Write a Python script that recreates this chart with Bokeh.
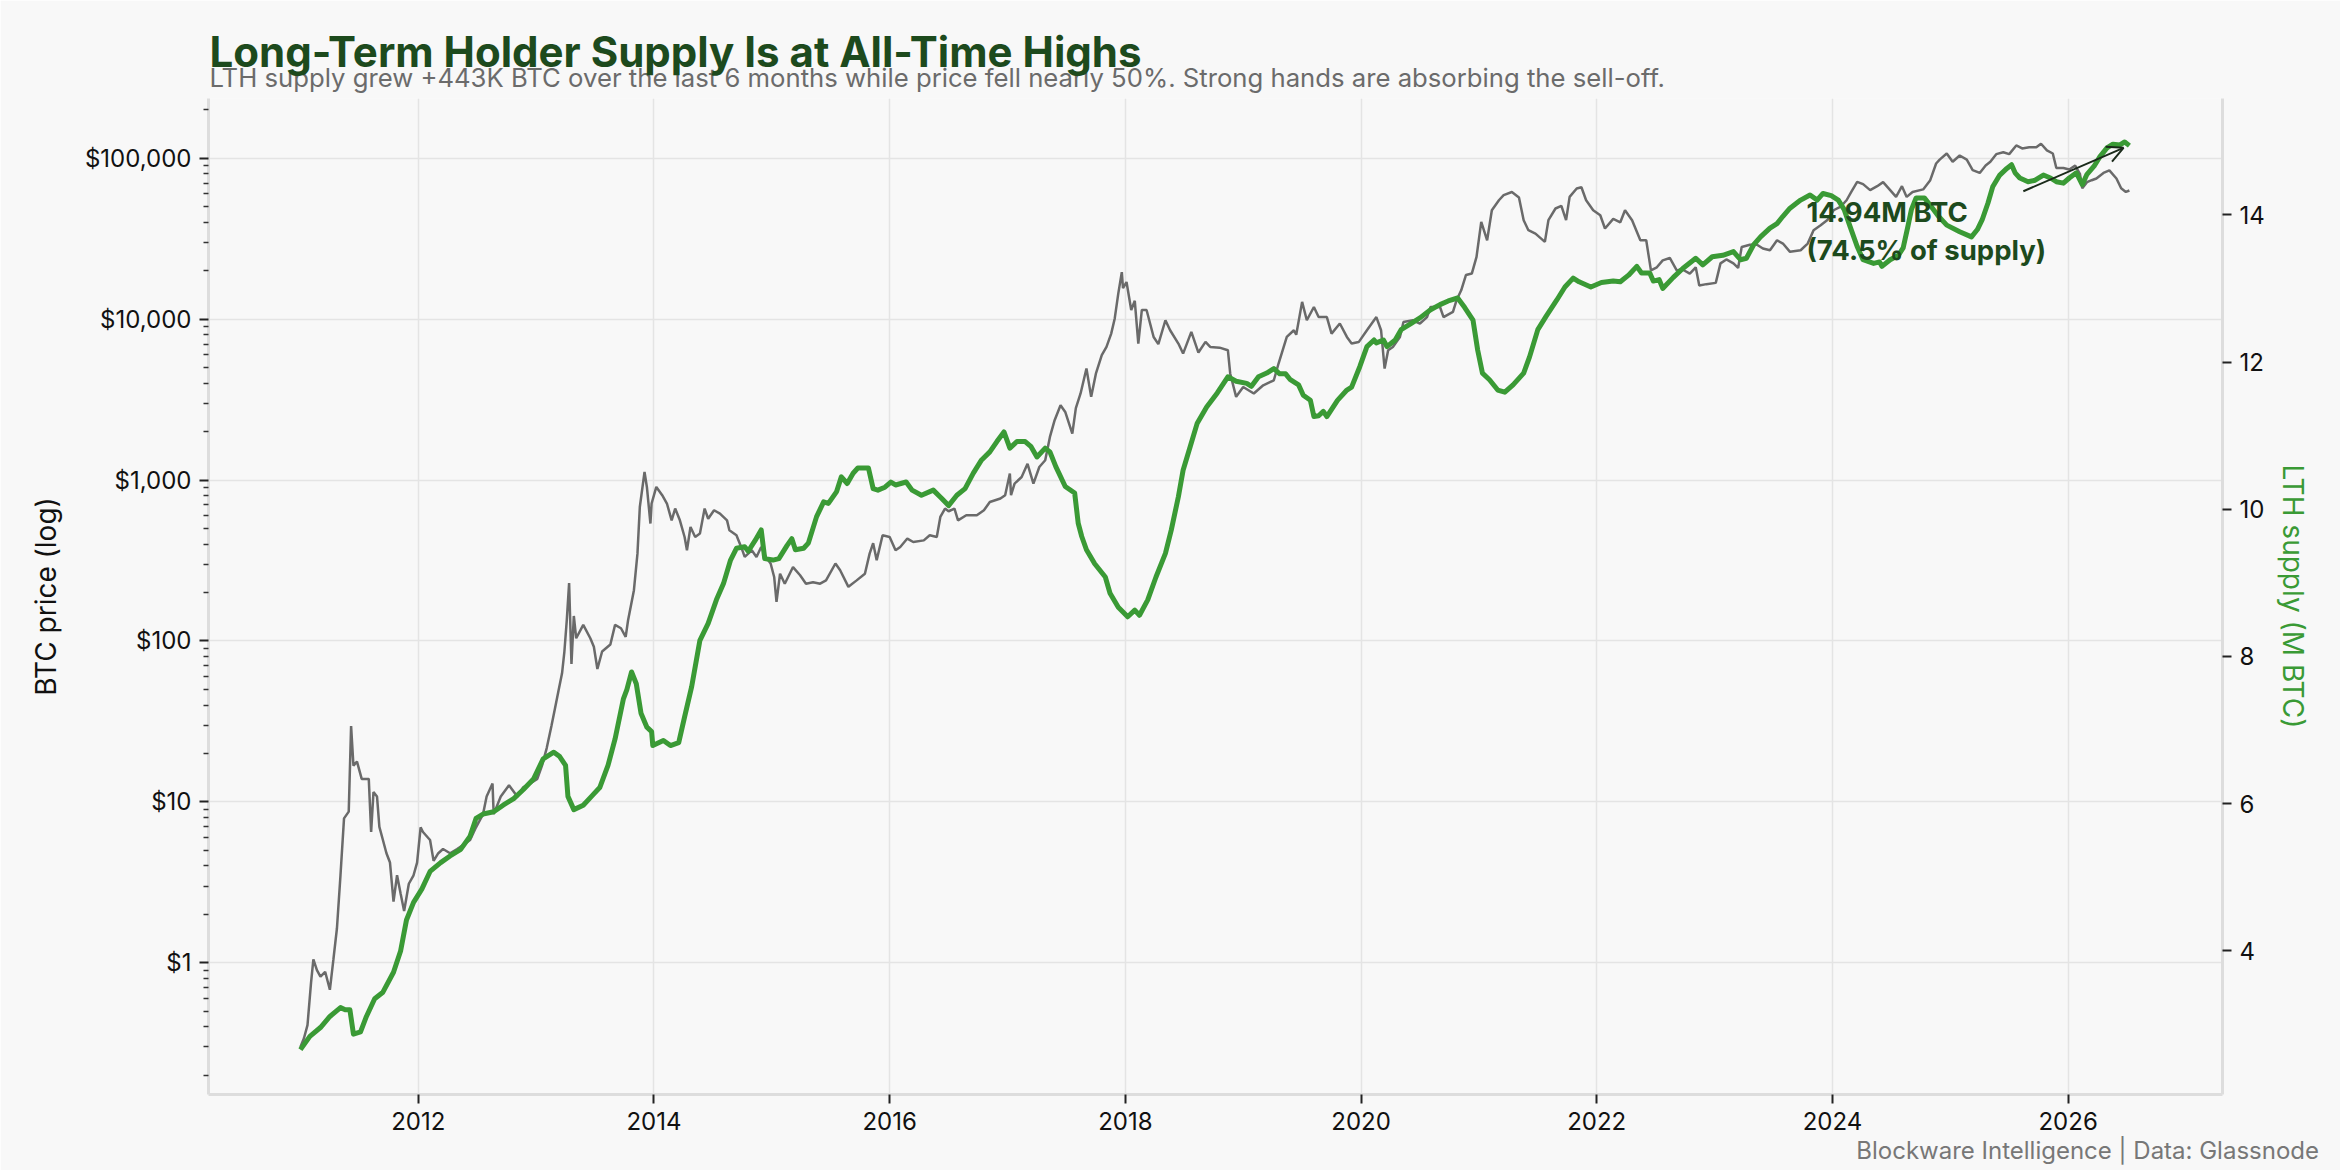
from bokeh.plotting import figure
from bokeh.models import (Range1d, LinearAxis, LinearScale, FixedTicker, NumeralTickFormatter,
                          Label, Arrow, OpenHead, Title)
from bokeh.embed import file_html
from bokeh.resources import INLINE

# ---------------- data ----------------
price_year = [
    2011.00, 2011.03, 2011.06, 2011.09, 2011.11, 2011.14, 2011.17, 2011.21, 2011.25, 2011.28,
    2011.31, 2011.34, 2011.37, 2011.41, 2011.43, 2011.45, 2011.48, 2011.52, 2011.58, 2011.60,
    2011.62, 2011.65, 2011.67, 2011.70, 2011.73, 2011.76, 2011.79, 2011.82, 2011.85, 2011.88,
    2011.92, 2011.96, 2011.99, 2012.02, 2012.04, 2012.10, 2012.13, 2012.17, 2012.21, 2012.27,
    2012.33, 2012.38, 2012.44, 2012.49, 2012.55, 2012.58, 2012.63, 2012.64, 2012.70, 2012.77,
    2012.84, 2012.89, 2012.95, 2013.01, 2013.05, 2013.09, 2013.13, 2013.16, 2013.19, 2013.22,
    2013.24, 2013.26, 2013.28, 2013.30, 2013.32, 2013.34, 2013.40, 2013.46, 2013.49, 2013.52,
    2013.56, 2013.63, 2013.67, 2013.72, 2013.76, 2013.78, 2013.83, 2013.86, 2013.88, 2013.92,
    2013.94, 2013.97, 2013.98, 2014.02, 2014.07, 2014.11, 2014.15, 2014.18, 2014.22, 2014.26,
    2014.28, 2014.31, 2014.35, 2014.39, 2014.43, 2014.46, 2014.51, 2014.56, 2014.62, 2014.64,
    2014.70, 2014.74, 2014.77, 2014.83, 2014.87, 2014.91, 2014.95, 2014.99, 2015.02, 2015.04,
    2015.07, 2015.11, 2015.18, 2015.24, 2015.29, 2015.35, 2015.41, 2015.46, 2015.54, 2015.58,
    2015.65, 2015.72, 2015.79, 2015.83, 2015.86, 2015.89, 2015.94, 2016.00, 2016.05, 2016.09,
    2016.15, 2016.20, 2016.29, 2016.34, 2016.40, 2016.43, 2016.47, 2016.50, 2016.55, 2016.58,
    2016.65, 2016.74, 2016.80, 2016.85, 2016.94, 2016.98, 2017.02, 2017.03, 2017.06, 2017.12,
    2017.17, 2017.22, 2017.27, 2017.32, 2017.36, 2017.40, 2017.45, 2017.49, 2017.55, 2017.58,
    2017.62, 2017.67, 2017.71, 2017.75, 2017.80, 2017.84, 2017.88, 2017.91, 2017.94, 2017.97,
    2017.98, 2018.01, 2018.05, 2018.08, 2018.11, 2018.14, 2018.18, 2018.24, 2018.28, 2018.34,
    2018.38, 2018.45, 2018.49, 2018.56, 2018.62, 2018.68, 2018.72, 2018.80, 2018.87, 2018.89,
    2018.94, 2019.00, 2019.09, 2019.17, 2019.26, 2019.30, 2019.37, 2019.43, 2019.45, 2019.50,
    2019.54, 2019.60, 2019.64, 2019.71, 2019.75, 2019.82, 2019.88, 2019.92, 2019.98, 2020.05,
    2020.13, 2020.17, 2020.20, 2020.23, 2020.27, 2020.33, 2020.36, 2020.44, 2020.50, 2020.56,
    2020.59, 2020.67, 2020.70, 2020.78, 2020.81, 2020.85, 2020.89, 2020.94, 2020.98, 2021.02,
    2021.07, 2021.11, 2021.17, 2021.21, 2021.28, 2021.34, 2021.38, 2021.42, 2021.48, 2021.56,
    2021.59, 2021.65, 2021.70, 2021.74, 2021.77, 2021.83, 2021.87, 2021.91, 2021.97, 2022.03,
    2022.07, 2022.14, 2022.20, 2022.24, 2022.30, 2022.37, 2022.42, 2022.46, 2022.51, 2022.56,
    2022.62, 2022.68, 2022.72, 2022.79, 2022.84, 2022.87, 2022.93, 2023.01, 2023.05, 2023.10,
    2023.16, 2023.20, 2023.23, 2023.30, 2023.36, 2023.41, 2023.47, 2023.53, 2023.58, 2023.64,
    2023.73, 2023.79, 2023.84, 2023.90, 2023.96, 2024.01, 2024.07, 2024.12, 2024.16, 2024.21,
    2024.26, 2024.32, 2024.38, 2024.43, 2024.49, 2024.54, 2024.59, 2024.63, 2024.68, 2024.77,
    2024.83, 2024.88, 2024.91, 2024.97, 2025.02, 2025.08, 2025.14, 2025.19, 2025.25, 2025.30,
    2025.34, 2025.39, 2025.45, 2025.50, 2025.56, 2025.61, 2025.67, 2025.73, 2025.77, 2025.82,
    2025.87, 2025.90, 2025.96, 2026.01, 2026.06, 2026.10, 2026.12, 2026.16, 2026.20, 2026.24,
    2026.30, 2026.35, 2026.41, 2026.45, 2026.49, 2026.52,
]
price_usd = [
    0.30, 0.34, 0.41, 0.75, 1.05, 0.90, 0.82, 0.88, 0.68, 1.05,
    1.64, 3.5, 7.9, 8.7, 29.6, 16.8, 17.8, 13.9, 13.9, 6.5,
    11.5, 10.8, 7.0, 5.8, 4.8, 4.2, 2.4, 3.5, 2.7, 2.1,
    3.1, 3.5, 4.2, 6.95, 6.5, 5.8, 4.3, 4.8, 5.1, 4.8,
    5.1, 5.4, 5.8, 6.95, 8.4, 10.8, 13.0, 8.4, 10.8, 12.7,
    10.8, 12.3, 13.0, 13.9, 16.8, 21.6, 29.6, 38, 49, 63,
    86, 134, 229, 72, 143, 104, 126, 104, 92, 67,
    86, 95, 126, 120, 106, 134, 207, 349, 680, 1123,
    906, 537, 715, 906, 805, 715, 562, 665, 562, 443,
    366, 511, 443, 465, 665, 575, 649, 619, 562, 488,
    454, 384, 333, 366, 333, 384, 333, 303, 250, 175,
    262, 227, 288, 256, 227, 232, 227, 238, 303, 275,
    217, 238, 262, 349, 405, 318, 454, 443, 366, 384,
    433, 412, 422, 454, 443, 590, 665, 640, 665, 562,
    604, 604, 649, 731, 768, 805, 1097, 805, 951, 1045,
    1262, 951, 1205, 1327, 1853, 2355, 2919, 2650, 1945, 2800,
    3452, 4935, 3289, 4580, 5970, 6720, 8130, 10100, 14400, 19600,
    15600, 17000, 11400, 13000, 7050, 11400, 11400, 7750, 7000, 9840,
    8530, 7050, 6110, 8330, 6200, 7220, 6720, 6650, 6410, 4580,
    3290, 3790, 3450, 3880, 4170, 5300, 7750, 8530, 8000, 12800,
    9840, 11900, 10300, 10300, 8130, 9390, 7750, 7050, 7200, 8530,
    10300, 8530, 4930, 6410, 6720, 7750, 9610, 9840, 9390, 10300,
    11900, 11900, 10300, 11100, 13100, 15100, 18800, 19200, 24400, 40200,
    30900, 47500, 54800, 58900, 61700, 57000, 41200, 35700, 34000, 30200,
    41200, 48700, 50500, 41200, 57500, 64800, 66000, 54800, 47500, 44200,
    36600, 42000, 40000, 47500, 41200, 30900, 30900, 20100, 21000, 23200,
    24000, 20000, 20500, 19200, 21000, 16200, 16500, 16800, 22200, 23500,
    22200, 20800, 28100, 29000, 29000, 27500, 26800, 30900, 29500, 26200,
    26800, 29500, 35700, 38300, 41500, 47500, 50000, 54800, 61700, 71300,
    69000, 63300, 67000, 71000, 63300, 57500, 67000, 57500, 61700, 64000,
    73000, 92700, 98000, 107000, 95000, 104000, 98000, 84400, 81000, 90000,
    95000, 106000, 109000, 106000, 120000, 115000, 117000, 117000, 123000, 112000,
    107000, 87000, 87000, 85000, 90000, 80000, 65000, 71000, 73000, 74800,
    81000, 84000, 74800, 65000, 61700, 63000,
]

lth_year = [
    2011.00, 2011.08, 2011.17, 2011.25, 2011.34, 2011.38, 2011.42, 2011.45, 2011.51, 2011.56,
    2011.63, 2011.70, 2011.79, 2011.85, 2011.90, 2011.96, 2012.03, 2012.10, 2012.19, 2012.27,
    2012.36, 2012.44, 2012.49, 2012.55, 2012.64, 2012.72, 2012.81, 2012.89, 2012.98, 2013.06,
    2013.15, 2013.20, 2013.25, 2013.27, 2013.32, 2013.40, 2013.47, 2013.54, 2013.61, 2013.67,
    2013.74, 2013.77, 2013.81, 2013.85, 2013.89, 2013.94, 2013.98, 2013.99, 2014.08, 2014.14,
    2014.21, 2014.26, 2014.32, 2014.39, 2014.46, 2014.53, 2014.59, 2014.65, 2014.70, 2014.77,
    2014.80, 2014.86, 2014.91, 2014.94, 2015.01, 2015.06, 2015.13, 2015.17, 2015.20, 2015.27,
    2015.31, 2015.38, 2015.44, 2015.48, 2015.55, 2015.59, 2015.64, 2015.69, 2015.73, 2015.82,
    2015.86, 2015.90, 2015.96, 2016.01, 2016.05, 2016.14, 2016.19, 2016.27, 2016.37, 2016.44,
    2016.50, 2016.57, 2016.64, 2016.71, 2016.78, 2016.85, 2016.91, 2016.97, 2017.02, 2017.08,
    2017.15, 2017.20, 2017.25, 2017.32, 2017.36, 2017.41, 2017.49, 2017.57, 2017.60, 2017.63,
    2017.67, 2017.74, 2017.83, 2017.87, 2017.94, 2018.02, 2018.08, 2018.12, 2018.19, 2018.26,
    2018.34, 2018.39, 2018.45, 2018.49, 2018.55, 2018.61, 2018.69, 2018.78, 2018.87, 2018.94,
    2019.03, 2019.07, 2019.13, 2019.20, 2019.26, 2019.31, 2019.36, 2019.40, 2019.47, 2019.51,
    2019.57, 2019.60, 2019.64, 2019.68, 2019.71, 2019.80, 2019.88, 2019.92, 2019.99, 2020.05,
    2020.11, 2020.13, 2020.19, 2020.22, 2020.29, 2020.34, 2020.43, 2020.50, 2020.59, 2020.67,
    2020.74, 2020.82, 2020.88, 2020.95, 2020.99, 2021.03, 2021.09, 2021.16, 2021.22, 2021.29,
    2021.38, 2021.43, 2021.50, 2021.57, 2021.66, 2021.73, 2021.80, 2021.85, 2021.95, 2022.04,
    2022.14, 2022.20, 2022.27, 2022.34, 2022.38, 2022.45, 2022.48, 2022.53, 2022.56, 2022.65,
    2022.73, 2022.84, 2022.90, 2022.98, 2023.07, 2023.16, 2023.22, 2023.27, 2023.33, 2023.39,
    2023.47, 2023.53, 2023.58, 2023.64, 2023.73, 2023.81, 2023.87, 2023.92, 2023.99, 2024.05,
    2024.10, 2024.15, 2024.21, 2024.26, 2024.35, 2024.40, 2024.42, 2024.49, 2024.56, 2024.60,
    2024.64, 2024.67, 2024.71, 2024.78, 2024.83, 2024.90, 2024.97, 2025.08, 2025.18, 2025.23,
    2025.27, 2025.32, 2025.36, 2025.42, 2025.48, 2025.52, 2025.55, 2025.59, 2025.66, 2025.72,
    2025.79, 2025.85, 2025.90, 2025.96, 2026.01, 2026.07, 2026.12, 2026.16, 2026.22, 2026.27,
    2026.33, 2026.38, 2026.44, 2026.48, 2026.52,
]
lth_supply_m = [
    2.66, 2.84, 2.96, 3.11, 3.23, 3.20, 3.20, 2.87, 2.90, 3.11,
    3.35, 3.44, 3.71, 4.00, 4.42, 4.66, 4.84, 5.08, 5.20, 5.29,
    5.38, 5.56, 5.80, 5.86, 5.89, 5.98, 6.07, 6.19, 6.34, 6.61,
    6.70, 6.64, 6.52, 6.10, 5.92, 5.98, 6.10, 6.22, 6.52, 6.88,
    7.42, 7.55, 7.79, 7.63, 7.23, 7.04, 6.98, 6.79, 6.86, 6.79,
    6.83, 7.18, 7.59, 8.22, 8.45, 8.77, 8.99, 9.31, 9.47, 9.49,
    9.43, 9.58, 9.72, 9.33, 9.31, 9.33, 9.51, 9.60, 9.45, 9.47,
    9.54, 9.90, 10.10, 10.08, 10.24, 10.44, 10.35, 10.49, 10.56, 10.56,
    10.28, 10.26, 10.30, 10.37, 10.33, 10.37, 10.26, 10.19, 10.26, 10.15,
    10.05, 10.19, 10.28, 10.49, 10.67, 10.78, 10.92, 11.05, 10.83, 10.92,
    10.92, 10.85, 10.71, 10.83, 10.78, 10.58, 10.31, 10.22, 9.81, 9.63,
    9.45, 9.26, 9.08, 8.86, 8.67, 8.54, 8.63, 8.56, 8.77, 9.08,
    9.40, 9.72, 10.17, 10.53, 10.85, 11.17, 11.39, 11.58, 11.80, 11.74,
    11.71, 11.67, 11.80, 11.85, 11.91, 11.84, 11.84, 11.76, 11.69, 11.55,
    11.48, 11.26, 11.27, 11.33, 11.26, 11.48, 11.62, 11.66, 11.94, 12.21,
    12.30, 12.26, 12.30, 12.21, 12.30, 12.44, 12.53, 12.60, 12.71, 12.78,
    12.83, 12.87, 12.74, 12.57, 12.16, 11.85, 11.76, 11.62, 11.59, 11.69,
    11.85, 12.07, 12.44, 12.62, 12.84, 13.02, 13.14, 13.09, 13.02, 13.08,
    13.10, 13.09, 13.18, 13.30, 13.21, 13.21, 13.10, 13.12, 13.00, 13.15,
    13.27, 13.41, 13.32, 13.43, 13.45, 13.50, 13.39, 13.41, 13.59, 13.70,
    13.82, 13.88, 13.98, 14.09, 14.20, 14.27, 14.20, 14.29, 14.26, 14.20,
    14.07, 13.84, 13.57, 13.39, 13.34, 13.36, 13.30, 13.39, 13.45, 13.55,
    13.84, 14.07, 14.23, 14.23, 14.13, 13.98, 13.86, 13.77, 13.70, 13.80,
    13.93, 14.16, 14.38, 14.54, 14.63, 14.68, 14.57, 14.50, 14.45, 14.47,
    14.54, 14.50, 14.45, 14.43, 14.50, 14.57, 14.41, 14.55, 14.66, 14.79,
    14.91, 14.96, 14.95, 14.99, 14.94,
]

price_ticks = [1, 10, 100, 1000, 10000, 100000]
lth_ticks = [4, 6, 8, 10, 12, 14]
year_ticks = [2012, 2014, 2016, 2018, 2020, 2022, 2024, 2026]

title_text = "Long-Term Holder Supply Is at All-Time Highs"
subtitle_text = ("LTH supply grew +443K BTC over the last 6 months while price fell nearly 50%. "
                 "Strong hands are absorbing the sell-off.")
footer_text = "Blockware Intelligence  |  Data: Glassnode"
annot_line1 = "14.94M BTC"
annot_line2 = "(74.5% of supply)"

assert len(price_year) == len(price_usd)
assert len(lth_year) == len(lth_supply_m)

# ---------------- styling ----------------
FONT = "Inter"
BG = "#f8f8f8"
GRAY = "#6a6a6a"
GREEN = "#3a9a35"
DARK_GREEN = "#1d4a1d"
W, H = 2340, 1170
L, R, T, B = 208, 118, 98, 76

p = figure(width=W, height=H, output_backend="svg", toolbar_location=None,
           y_axis_type="log",
           x_range=Range1d(2010.22, 2027.31), y_range=Range1d(0.152, 235000),
           min_border_left=L, min_border_right=R, min_border_top=T, min_border_bottom=B,
           background_fill_color=BG, border_fill_color=BG, outline_line_color=None)
p.title.text = ""
p.title.standoff = 0

p.extra_y_ranges = {"lth": Range1d(2.05, 15.58)}
p.extra_y_scales = {"lth": LinearScale()}

# x axis
xa = p.xaxis[0]
xa.ticker = FixedTicker(ticks=year_ticks, minor_ticks=[])
xa.formatter = NumeralTickFormatter(format="0")

# left (price, log) axis
ya = p.yaxis[0]
minor = [m * 10.0 ** e for e in range(-1, 6) for m in range(2, 10)]
ya.ticker = FixedTicker(ticks=price_ticks, minor_ticks=minor)
ya.formatter = NumeralTickFormatter(format="$0,0")
ya.axis_label = "BTC price (log)"
ya.axis_label_text_color = "#111111"

# right (LTH) axis
ra = LinearAxis(y_range_name="lth", ticker=FixedTicker(ticks=lth_ticks, minor_ticks=[]),
                axis_label="LTH supply (M BTC)")
ra.axis_label_text_color = GREEN
p.add_layout(ra, "right")

for ax in (xa, ya, ra):
    ax.axis_line_color = "#dddddd"
    ax.axis_line_width = 3
    ax.major_tick_in = 0
    ax.major_tick_out = 9
    ax.major_tick_line_width = 2
    ax.major_tick_line_color = "#222222"
    ax.minor_tick_in = 0
    ax.minor_tick_out = 5
    ax.minor_tick_line_width = 1.5
    ax.minor_tick_line_color = "#333333"
    ax.major_label_text_font = FONT
    ax.major_label_text_font_size = "24px"
    ax.major_label_text_color = "#111111"
    ax.major_label_standoff = 8
    ax.axis_label_text_font = FONT
    ax.axis_label_text_font_size = "28px"
    ax.axis_label_text_font_style = "normal"
    ax.axis_label_standoff = 19
ra.axis_label_standoff = 8

p.xgrid.grid_line_color = "#e4e4e4"
p.xgrid.grid_line_width = 1.5
p.ygrid.grid_line_color = "#e4e4e4"
p.ygrid.grid_line_width = 1.5

# data lines
p.line(price_year, price_usd, line_color=GRAY, line_width=2.5)
p.line(lth_year, lth_supply_m, y_range_name="lth", line_color=GREEN, line_width=5,
       line_join="round")

# annotation
p.add_layout(Arrow(end=OpenHead(size=16, line_color="#1a2a1a", line_width=2),
                   x_start=2025.62, y_start=14.32, x_end=2026.47, y_end=14.91,
                   y_range_name="lth", line_color="#1a2a1a", line_width=2))
for txt, yv in ((annot_line1, 14.04), (annot_line2, 13.52)):
    p.add_layout(Label(x=2023.78, y=yv, y_range_name="lth", text=txt,
                       text_font=FONT, text_font_size="27.5px", text_font_style="bold",
                       text_color=DARK_GREEN, text_baseline="alphabetic"))

# titles (stacked above the frame) & footer (below the x axis)
p.add_layout(Title(text=subtitle_text, align="left", offset=1, standoff=11,
                   text_font=FONT, text_font_size="25.7px", text_font_style="normal",
                   text_color="#6b6b6b"), "above")
p.add_layout(Title(text=title_text, align="left", offset=1, standoff=-44,
                   text_font=FONT, text_font_size="42px", text_font_style="bold",
                   text_color=DARK_GREEN), "above")
p.add_layout(Title(text=footer_text, align="right", offset=-110, standoff=3,
                   text_font=FONT, text_font_size="24px", text_font_style="normal",
                   text_color="#777777"), "below")

open("out.html", "w").write(file_html(p, INLINE))
